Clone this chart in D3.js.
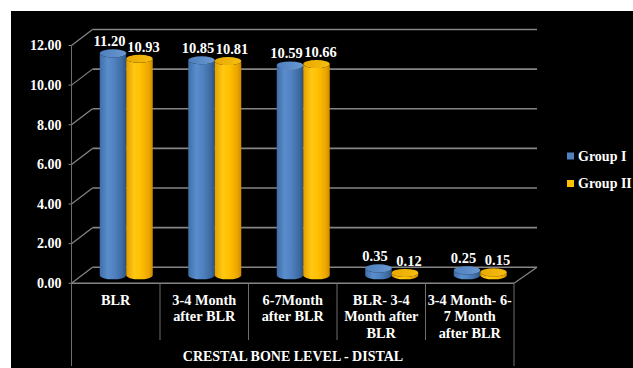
<!DOCTYPE html>
<html>
<head>
<meta charset="utf-8">
<script src="https://cdn.jsdelivr.net/npm/d3@7"></script>
<style>
  html, body { margin: 0; padding: 0; background: #ffffff; }
  svg { display: block; }
</style>
</head>
<body>
<svg id="chart" width="633" height="368"></svg>
<script>
// Crestal bone level (distal) for the two groups
const categories = ["BLR", "3-4 Month after BLR", "6-7Month after BLR", "BLR- 3-4 Month after BLR", "3-4 Month- 6-7 Month after BLR"];
const categoryLines = [
  ["BLR"],
  ["3-4 Month", "after BLR"],
  ["6-7Month", "after BLR"],
  ["BLR- 3-4", "Month after", "BLR"],
  ["3-4 Month- 6-", "7 Month", "after BLR"]
];
const seriesNames = ["Group I", "Group II"];
const groupI = [11.20, 10.85, 10.59, 0.35, 0.25];
const groupII = [10.93, 10.81, 10.66, 0.12, 0.15];
const yTicks = [0, 2, 4, 6, 8, 10, 12];
const axisTitle = "CRESTAL BONE LEVEL - DISTAL";

const FONT = "'Liberation Serif', 'Times New Roman', 'DejaVu Serif', serif";

const svg = d3.select("#chart");
const W = 633, H = 368;

function label(sel) {
  return sel.attr("font-family", FONT).attr("font-weight", "bold").attr("fill", "#ffffff");
}

// dark panel
svg.append("rect").attr("x", 11).attr("y", 11).attr("width", W - 11).attr("height", H - 11).attr("fill", "#000000");

// front plane geometry and depth offset of the 3D box
const left = 71.5, right = 514, y0 = 283.3, y12 = 45.5;
const depthX = 21, depthY = -16;
const y = d3.scaleLinear().domain([0, 12]).range([y0, y12]);
const x = d3.scaleBand().domain(categories).range([left, right]).paddingInner(0).paddingOuter(0);
const inner = d3.scaleBand().domain(seriesNames).range([0, x.bandwidth()]).paddingOuter(0.67).paddingInner(0);

const grid = "#858585";
const g = svg.append("g");

// back wall gridlines and left-wall diagonals
yTicks.forEach(v => {
  g.append("line")
    .attr("x1", left + depthX).attr("x2", right + depthX + 2)
    .attr("y1", y(v) + depthY).attr("y2", y(v) + depthY)
    .attr("stroke", grid).attr("stroke-width", 1.6);
  g.append("line")
    .attr("x1", left).attr("y1", y(v))
    .attr("x2", left + depthX).attr("y2", y(v) + depthY)
    .attr("stroke", grid).attr("stroke-width", 1.2);
  g.append("line")
    .attr("x1", left - 3).attr("x2", left).attr("y1", y(v)).attr("y2", y(v))
    .attr("stroke", grid).attr("stroke-width", 1);
  label(g.append("text"))
    .attr("x", left - 10).attr("y", y(v) + 4.8)
    .attr("text-anchor", "end").attr("font-size", "14px")
    .text(d3.format(".2f")(v));
});

// floor: front edge and right diagonal
g.append("line").attr("x1", left).attr("x2", right).attr("y1", y0).attr("y2", y0)
  .attr("stroke", grid).attr("stroke-width", 1.6);
g.append("line").attr("x1", right).attr("y1", y0).attr("x2", right + depthX + 2).attr("y2", y0 + depthY)
  .attr("stroke", grid).attr("stroke-width", 1.2);

// vertical value axis
g.append("line").attr("x1", left).attr("x2", left).attr("y1", y12).attr("y2", 366)
  .attr("stroke", "#6e6e6e").attr("stroke-width", 1);

// category dividers below the floor
categories.forEach((c, i) => {
  if (i === 0) return;
  g.append("line").attr("x1", x(c)).attr("x2", x(c)).attr("y1", y0).attr("y2", 340)
    .attr("stroke", "#6e6e6e").attr("stroke-width", 1);
});
g.append("line").attr("x1", right).attr("x2", right).attr("y1", y0).attr("y2", 366)
  .attr("stroke", "#6e6e6e").attr("stroke-width", 1);

// gradients for the cylinders
const defs = svg.append("defs");
function grad(id, stops) {
  const lg = defs.append("linearGradient").attr("id", id).attr("x1", "0%").attr("x2", "100%").attr("y1", "0%").attr("y2", "0%");
  stops.forEach(s => lg.append("stop").attr("offset", s[0]).attr("stop-color", s[1]));
}
grad("gBlue", [["0%", "#3f6fa9"], ["30%", "#5a8dcc"], ["55%", "#5082c1"], ["85%", "#3d6aa0"], ["100%", "#2d5282"]]);
grad("gYellow", [["0%", "#e39f00"], ["30%", "#ffc814"], ["55%", "#ffc000"], ["85%", "#eba600"], ["100%", "#cf8c00"]]);
grad("gBlueTop", [["0%", "#4d7fbd"], ["100%", "#6a99d2"]]);
grad("gYellowTop", [["0%", "#e9a900"], ["100%", "#f6bd10"]]);

const fills = { "Group I": "url(#gBlue)", "Group II": "url(#gYellow)" };
const topFills = { "Group I": "url(#gBlueTop)", "Group II": "url(#gYellowTop)" };
const labelShift = { "Group I": -3.5, "Group II": 4 };
const seriesData = { "Group I": groupI, "Group II": groupII };

// cylinders sit at mid depth
const midX = depthX / 2, midY = depthY / 2;
const ry = 4;
const bars = g.append("g");
const labels = g.append("g");

seriesNames.forEach(s => {
  seriesData[s].forEach((v, i) => {
    const c = categories[i];
    const bx = x(c) + inner(s) + midX;
    const w = inner.bandwidth();
    const rx = w / 2;
    const yb = y(0) + midY;
    const yt = y(v) + midY;
    const path = `M${bx},${yt} L${bx},${yb} A${rx},${ry} 0 0 0 ${bx + w},${yb} L${bx + w},${yt} A${rx},${ry} 0 0 1 ${bx},${yt} Z`;
    bars.append("path").attr("d", path).attr("fill", fills[s]);
    bars.append("ellipse").attr("cx", bx + rx).attr("cy", yt).attr("rx", rx).attr("ry", ry).attr("fill", topFills[s]);
    label(labels.append("text"))
      .attr("x", bx + rx + labelShift[s]).attr("y", yt - 7)
      .attr("text-anchor", "middle").attr("font-size", "14.5px")
      .text(v.toFixed(2));
  });
});

// category labels
categories.forEach((c, i) => {
  const t = label(g.append("text")).attr("text-anchor", "middle").attr("font-size", "14.3px");
  categoryLines[i].forEach((line, k) => {
    t.append("tspan").attr("x", x(c) + x.bandwidth() / 2).attr("y", 304.5 + k * 16.5).text(line);
  });
});

// axis title
label(g.append("text")).attr("x", 293).attr("y", 360.5).attr("text-anchor", "middle").attr("font-size", "14px").text(axisTitle);

// legend
const legendColors = { "Group I": "#4f81bd", "Group II": "#ffc000" };
seriesNames.forEach((s, i) => {
  const ly = 156 + i * 27.5;
  g.append("rect").attr("x", 567).attr("y", ly - 3.5).attr("width", 7).attr("height", 7).attr("fill", legendColors[s]);
  label(g.append("text")).attr("x", 578).attr("y", ly + 4.5).attr("font-size", "14px").text(s);
});
</script>
</body>
</html>
